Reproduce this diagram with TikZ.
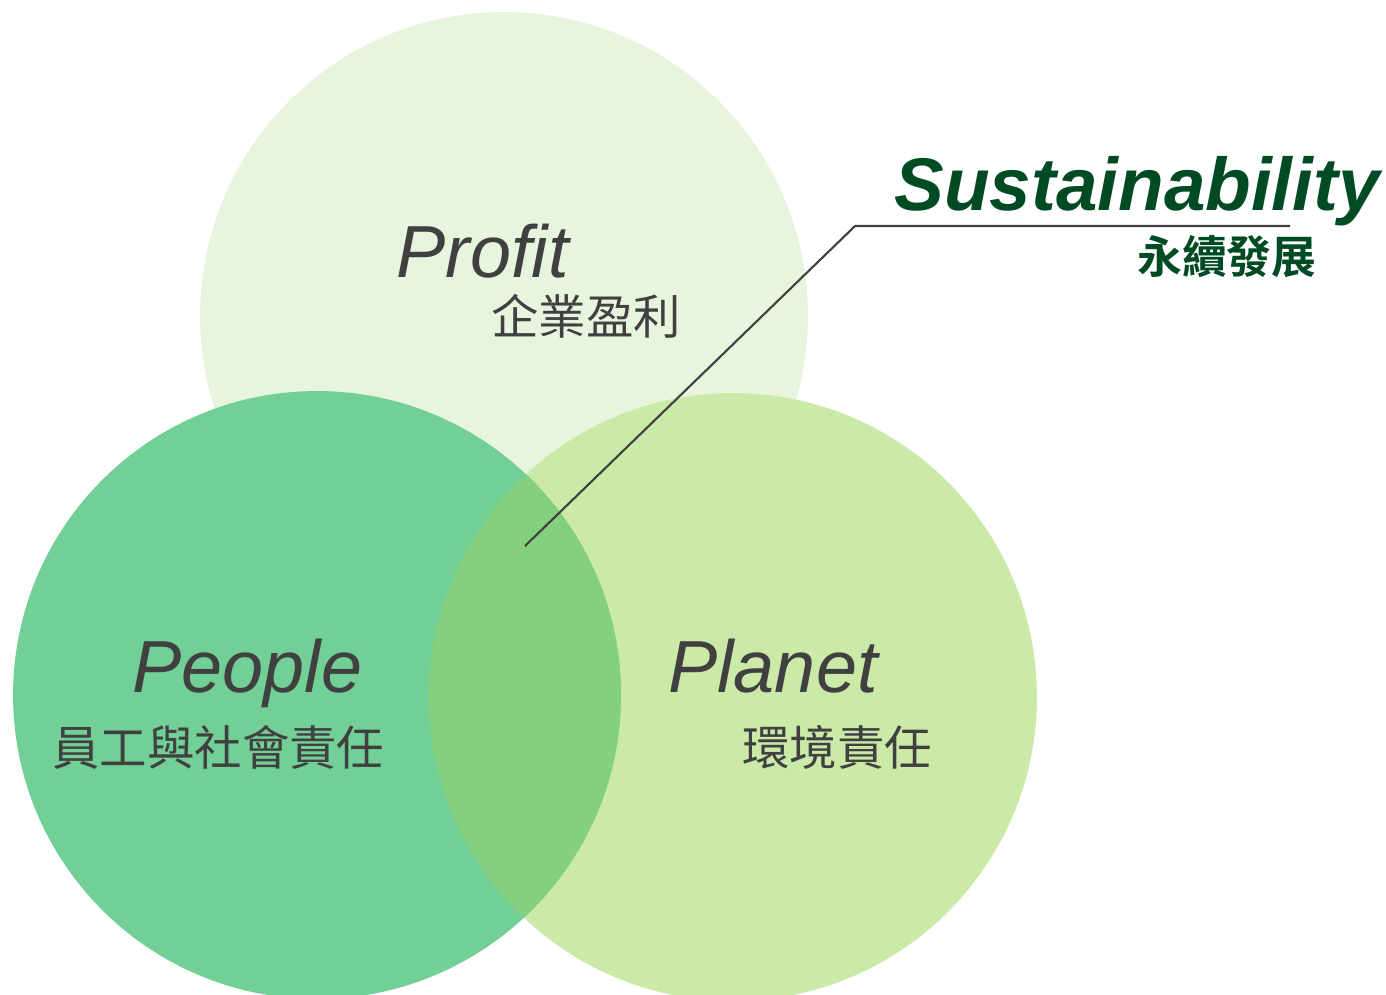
\documentclass[tikz,border=0pt]{standalone}
\usepackage{fontspec}
\setmainfont{Liberation Sans}
\newfontfamily\cjk{Noto Sans CJK TC}
\newfontfamily\cjkbold{Noto Sans CJK TC Bold}
\definecolor{profitfill}{HTML}{E7F5DE}
\definecolor{peoplefill}{HTML}{72D096}
\definecolor{planetfill}{HTML}{CBEAA8}
\definecolor{bothfill}{HTML}{84D07E}
\definecolor{labelgray}{HTML}{404040}
\definecolor{darkgreen}{HTML}{004B23}
\tikzset{
	word/.style = {anchor=base west, inner sep=0pt, text=labelgray, font=\fontsize{42}{42}\selectfont\itshape},
	hanzi/.style = {anchor=base west, inner sep=0pt, text=labelgray, font=\fontsize{27}{27}\selectfont\cjk},
}

\begin{document}
\begin{tikzpicture}[x=0.02cm, y=-0.02cm]
				\useasboundingbox (0,0) rectangle (1386,994);
				\coordinate (Pr) at (504,316);
				\coordinate (Pe) at (317,695);
				\coordinate (Pl) at (733,697);
				
				\fill[profitfill] (Pr) circle[radius=6.08cm];
				\fill[planetfill] (Pl) circle[radius=6.08cm];
				\fill[peoplefill] (Pe) circle[radius=6.08cm];
				\begin{scope}
					\clip (Pe) circle[radius=6.08cm];
					\fill[bothfill] (Pl) circle[radius=6.08cm];
				\end{scope}
				
				\node[word] (profit) at (396,277) {Profit};
				\node[hanzi] (profitzh) at (491,334) {企業盈利};
				\node[word] (people) at (132,692) {People};
				\node[hanzi] (peoplezh) at (52,765) {員工與社會責任};
				\node[word] (planet) at (668,692) {Planet};
				\node[hanzi] (planetzh) at (742,765) {環境責任};
				
				\node[anchor=base west, inner sep=0pt, text=darkgreen, font=\fontsize{42.5}{42.5}\selectfont\bfseries\itshape] (sust) at (894,210) {Sustainability};
				\node[anchor=base west, inner sep=0pt, text=darkgreen, font=\fontsize{25.5}{25.5}\selectfont\cjkbold] (sustzh) at (1137,273) {永續發展};
				
				\coordinate (S) at (525,546);
				\coordinate (K) at (855,226);
				\coordinate (E) at (1290,226);
				\draw[labelgray, line width=1.2pt] (S) -- (K) -- (E);
			\end{tikzpicture}
\end{document}
